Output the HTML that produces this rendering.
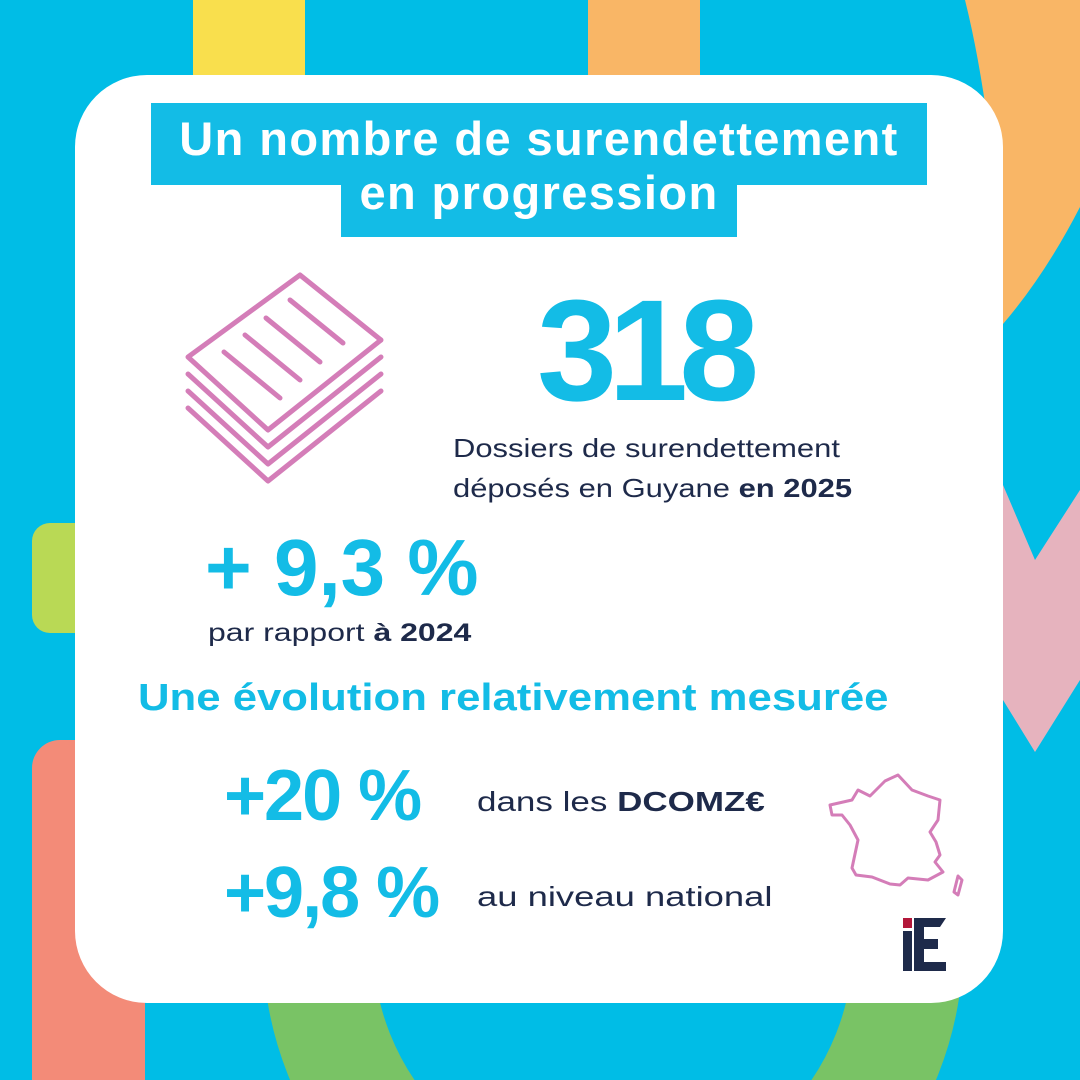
<!DOCTYPE html>
<html><head><meta charset="utf-8"><style>
html,body{margin:0;width:1080px;height:1080px;overflow:hidden}
body{background:#00BDE6;font-family:"Liberation Sans",sans-serif;position:relative}
.a{position:absolute}
.t{position:absolute;white-space:nowrap;transform-origin:0 0}
</style></head><body>
<div class="a" style="left:193px;top:0;width:112px;height:90px;background:#F9DF4D"></div>
<div class="a" style="left:588px;top:0;width:112px;height:90px;background:#F9B666"></div>
<div class="a" style="left:32px;top:523px;width:80px;height:110px;border-radius:18px 0 0 18px;background:#B9D955"></div>
<div class="a" style="left:32px;top:740px;width:113px;height:340px;border-radius:28px 0 0 0;background:#F38B78"></div>
<svg class="a" style="left:0;top:0" width="1080" height="1080">
<path d="M965,0 L1080,0 L1080,207 Q1045,275 1003,324 L990,140 Q980,60 965,0 Z" fill="#F9B666"/>
<polygon points="1003,485 1035,560 1080,490 1080,680 1035,752 1003,700" fill="#E6B3BE"/>
<circle cx="613" cy="945" r="295" fill="none" stroke="#79C365" stroke-width="110"/>
</svg>
<div class="a" style="left:75px;top:75px;width:928px;height:928px;border-radius:72px;background:#fff"></div>
<div class="a" style="left:151px;top:103px;width:776px;height:82px;background:#13BCE6"></div>
<div class="a" style="left:341px;top:180px;width:396px;height:57px;background:#13BCE6"></div>
<div class="a" style="left:131px;top:112px;width:816px;color:#fff;font-weight:bold;font-size:47px;letter-spacing:1.4px;line-height:54px;text-align:center;white-space:nowrap">Un nombre de surendettement<br>en progression</div>
<svg class="a" style="left:0;top:0" width="1080" height="1080" fill="none" stroke="#D47DB8" stroke-width="5" stroke-linejoin="round" stroke-linecap="round">
<polygon points="300,275 381,340 268,430 188,357"/>
<polyline points="188,374 268,447 381,357"/>
<polyline points="188,391 268,464 381,374"/>
<polyline points="188,408 268,481 381,391"/>
<line x1="290" y1="300" x2="343" y2="343"/>
<line x1="266" y1="318" x2="320" y2="362"/>
<line x1="245" y1="335" x2="300" y2="380"/>
<line x1="224" y1="352" x2="280" y2="398"/>
<path stroke-width="3" d="M830,805 L852,800 L858,790 L870,796 L885,781 L898,775 L912,790 L928,796 L940,800 L938,820 L930,832 L936,842 L940,855 L935,862 L943,872 L928,880 L908,878 L900,885 L890,884 L872,877 L856,875 L852,868 L858,840 L850,825 L842,815 L832,815 Z"/>
<path stroke-width="3" d="M958,876 L962,880 L958,895 L954,892 Z"/>
</svg>
<div class="t" style="left:537px;top:268px;color:#13BCE6;font-weight:bold;font-size:144px;letter-spacing:-9px">318</div>
<div class="t" style="left:453px;top:428px;color:#1E2A4A;font-size:26px;line-height:40px;transform:scaleX(1.19)">Dossiers de surendettement<br>déposés en Guyane <b>en 2025</b></div>
<div class="t" style="left:205px;top:522px;color:#13BCE6;font-weight:bold;font-size:80px">+ 9,3 %</div>
<div class="t" style="left:208px;top:619px;color:#1E2A4A;font-size:25px;transform:scaleX(1.28)">par rapport <b>à 2024</b></div>
<div class="t" style="left:138px;top:677px;color:#13BCE6;font-weight:bold;font-size:38px;transform:scaleX(1.15)">Une évolution relativement mesurée</div>
<div class="t" style="left:224px;top:755px;color:#13BCE6;font-weight:bold;font-size:72px;letter-spacing:-2px">+20 %</div>
<div class="t" style="left:224px;top:852px;color:#13BCE6;font-weight:bold;font-size:72px;letter-spacing:-2px">+9,8 %</div>
<div class="t" style="left:477px;top:786px;color:#1E2A4A;font-size:28px;transform:scaleX(1.25)">dans les <b>DCOMZ€</b></div>
<div class="t" style="left:477px;top:881px;color:#1E2A4A;font-size:28px;transform:scaleX(1.3)">au niveau national</div>
<div class="a" style="left:903px;top:918px;width:9px;height:10px;background:#B3173A"></div>
<div class="a" style="left:903px;top:931px;width:9px;height:40px;background:#1E2A4A"></div>
<svg class="a" style="left:914px;top:918px" width="34" height="54"><polygon points="0,0 32,0 26,9 10,9 10,21 24,21 24,31 10,31 10,44 32,44 32,53 0,53" fill="#1E2A4A"/></svg>
</body></html>
